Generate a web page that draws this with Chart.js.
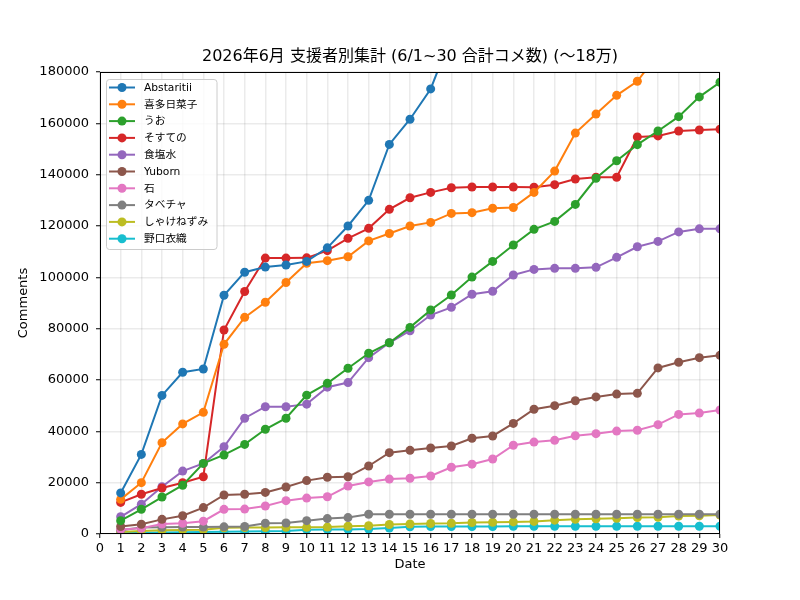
<html>
<head>
    <title>2026年6月 支援者別集計</title>
    <script src="https://cdn.jsdelivr.net/npm/chart.js"></script>
    <style>
        body { margin: 0; background: #fff; }
    </style>
</head>
<body>
<canvas id="chart" width="800" height="600"></canvas>
<script>
    const days = [1,2,3,4,5,6,7,8,9,10,11,12,13,14,15,16,17,18,19,20,21,22,23,24,25,26,27,28,29,30];
    const names = ['Abstaritii', '喜多日菜子', 'うお', 'そすての', '食塩水', 'Yuborn', '石', 'タベチャ', 'しゃけねずみ', '野口衣織'];
    const colors = ['#1f77b4', '#ff7f0e', '#2ca02c', '#d62728', '#9467bd', '#8c564b', '#e377c2', '#7f7f7f', '#bcbd22', '#17becf'];

    // values after day 16 / 26 are off the top of the plot (above 18万), rough guesses
    const abstaritii = [16000, 31000, 54000, 63000, 64300, 93000, 102000, 104000, 104800, 106200, 111500, 120000, 130000, 151800, 161600, 173400, 194000, 210000, 224000, 236000, 248000, 258000, 270000, 281000, 292000, 301000, 311000, 320000, 330000, 339000];
    const kita = [13500, 20000, 35600, 42900, 47400, 73900, 84400, 90300, 98000, 105500, 106500, 108000, 114200, 117100, 120000, 121400, 124900, 125200, 126900, 127200, 133100, 141400, 156200, 163600, 170900, 176400, 187000, 196000, 205000, 214000];
    const uo = [5200, 9600, 14400, 19000, 27500, 30800, 34900, 40800, 45100, 54100, 58700, 64600, 70400, 74500, 80500, 87300, 93100, 100100, 106200, 112600, 118700, 121800, 128400, 138600, 145400, 151700, 157000, 162600, 170300, 176000];
    const sosuteno = [12300, 15500, 17900, 20000, 22300, 79500, 94500, 107500, 107500, 107600, 110400, 115200, 119100, 126500, 131000, 133100, 134900, 135200, 135200, 135200, 135100, 136100, 138300, 139000, 139000, 154700, 155100, 157000, 157400, 157700];
    const shokuensui = [6700, 11600, 18400, 24500, 27500, 34000, 45100, 49600, 49600, 50600, 57200, 59000, 68700, 74500, 79200, 85300, 88300, 93400, 94600, 100900, 103100, 103500, 103500, 103900, 107800, 111900, 114000, 117700, 118900, 118900];
    const yuborn = [2900, 3800, 5700, 7100, 10300, 15200, 15500, 16200, 18300, 20800, 22100, 22300, 26500, 31700, 32600, 33500, 34300, 37300, 38200, 43100, 48600, 50000, 51900, 53400, 54500, 54800, 64700, 66900, 68700, 69600];
    const ishi = [1800, 2200, 3900, 4200, 5000, 9600, 9700, 10900, 13000, 14000, 14500, 18700, 20300, 21400, 21700, 22600, 26000, 27200, 29200, 34600, 35800, 36500, 38300, 39100, 40100, 40400, 42600, 46600, 47100, 48300];
    const tabecha = [1500, 2500, 2600, 2700, 2700, 2800, 2900, 4200, 4300, 5200, 6000, 6400, 7700, 7700, 7700, 7700, 7700, 7700, 7700, 7700, 7700, 7700, 7700, 7700, 7700, 7700, 7700, 7700, 7700, 7700];
    const shakenezumi = [800, 1200, 1500, 1600, 1700, 2400, 2500, 2500, 2600, 2600, 2700, 3000, 3200, 3700, 3900, 4100, 4200, 4500, 4600, 4700, 4900, 5400, 5700, 5900, 6100, 6400, 6500, 7000, 7100, 7400];
    const noguchi = [300, 500, 600, 700, 800, 900, 1000, 1100, 1200, 1700, 1800, 1800, 1900, 2300, 2800, 2900, 2900, 2900, 2900, 3000, 3000, 3000, 3000, 3000, 3000, 3000, 3000, 3000, 3000, 3000];

    const series = [abstaritii, kita, uo, sosuteno, shokuensui, yuborn, ishi, tabecha, shakenezumi, noguchi];
    const xTicks = [0, 30];
    const yTicks = [0, 180000, 20000];

    const titleText = '2026年6月 支援者別集計 (6/1~30 合計コメ数) (〜18万)';
    const FONT = "'DejaVu Sans', 'Noto Sans CJK JP', sans-serif";

    // title, frame and legend (matplotlib look)
    const decor = {
        id: 'decor',
        afterDraw(chart) {
            const ctx = chart.ctx;
            const a = chart.chartArea;
            ctx.save();
            ctx.strokeStyle = '#000';
            ctx.lineWidth = 1;
            ctx.strokeRect(Math.round(a.left) + 0.5, Math.round(a.top) + 0.5, Math.round(a.right - a.left) - 1, Math.round(a.bottom - a.top) - 1);

            ctx.fillStyle = '#000';
            ctx.font = '16px ' + FONT;
            ctx.textAlign = 'center';
            ctx.textBaseline = 'middle';
            ctx.fillText(titleText, (a.left + a.right) / 2, 57);

            // legend box
            ctx.beginPath();
            ctx.roundRect(106.5, 79.5, 110.5, 170, 3);
            ctx.fillStyle = 'rgba(255,255,255,0.8)';
            ctx.fill();
            ctx.strokeStyle = '#cccccc';
            ctx.stroke();

            ctx.font = '10.7px ' + FONT;
            ctx.textAlign = 'left';
            chart.data.datasets.forEach((ds, i) => {
                const y = 87.5 + i * 16.8;
                ctx.strokeStyle = ds.borderColor;
                ctx.lineWidth = 2;
                ctx.beginPath();
                ctx.moveTo(109, y);
                ctx.lineTo(135, y);
                ctx.stroke();
                ctx.fillStyle = ds.borderColor;
                ctx.beginPath();
                ctx.arc(122, y, 4.5, 0, Math.PI * 2);
                ctx.fill();
                ctx.fillStyle = '#000';
                ctx.fillText(ds.label, 144, y + 0.5);
            });
            ctx.restore();
        }
    };

    const datasets = series.map((vals, i) => ({
        label: names[i],
        data: days.map((d, j) => ({ x: d, y: vals[j] })),
        borderColor: colors[i],
        backgroundColor: colors[i],
        borderWidth: 2,
        pointRadius: 4.5,
        pointBorderWidth: 0,
        pointHoverRadius: 4.5,
        clip: 0,
        tension: 0
    }));

    new Chart(document.getElementById('chart'), {
        type: 'line',
        data: { datasets: datasets },
        plugins: [decor],
        options: {
            responsive: false,
            animation: false,
            devicePixelRatio: 1,
            layout: { padding: { top: 72, right: 80, left: 0, bottom: 0 } },
            plugins: {
                legend: { display: false },
                tooltip: { enabled: false }
            },
            scales: {
                x: {
                    type: 'linear',
                    min: xTicks[0],
                    max: xTicks[1],
                    afterFit: s => { s.height = 66; },
                    ticks: {
                        stepSize: 1,
                        autoSkip: false,
                        maxRotation: 0,
                        padding: 3,
                        color: '#000',
                        font: { family: FONT, size: 13 }
                    },
                    grid: { color: 'rgba(0,0,0,0.08)', lineWidth: 1.5, tickColor: '#000', tickLength: 4, tickWidth: 1 },
                    border: { display: false },
                    title: { display: true, text: 'Date', color: '#000', font: { family: FONT, size: 13 }, padding: { top: 0, bottom: 28 } }
                },
                y: {
                    min: yTicks[0],
                    max: yTicks[1],
                    afterFit: s => { s.width = 100; },
                    ticks: {
                        stepSize: yTicks[2],
                        padding: 7,
                        color: '#000',
                        font: { family: FONT, size: 13 },
                        callback: v => String(v)
                    },
                    grid: { color: 'rgba(0,0,0,0.08)', lineWidth: 1.5, tickColor: '#000', tickLength: 4, tickWidth: 1 },
                    border: { display: false },
                    title: { display: true, text: 'Comments', color: '#000', font: { family: FONT, size: 13 }, padding: { top: 16, bottom: 0 } }
                }
            }
        }
    });
</script>
</body>
</html>
